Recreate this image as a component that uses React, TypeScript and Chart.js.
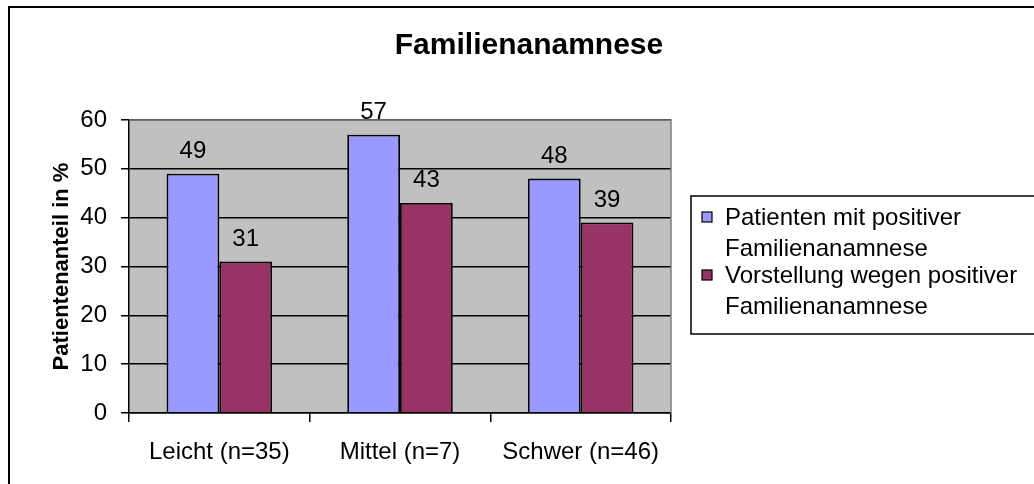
import React, { useEffect, useRef } from "react";
import { Chart, registerables } from "chart.js";

Chart.register(...registerables);

const chartTitle = "Familienanamnese";
const yAxisTitle = "Patientenanteil in %";
const categories = ["Leicht (n=35)", "Mittel (n=7)", "Schwer (n=46)"];
const seriesLabels = [
  ["Patienten mit positiver", "Familienanamnese"],
  ["Vorstellung wegen positiver", "Familienanamnese"],
];
const positiveHistory = [49, 57, 48];
const presentationDueToHistory = [31, 43, 39];
const seriesColors = ["#9999FF", "#993366"];
const yTicks = [0, 10, 20, 30, 40, 50, 60];

const FONT = "'Liberation Sans', Arial, Helvetica, sans-serif";

const decorPlugin = {
  id: "decor",
  beforeDraw(chart: any) {
    const { ctx, chartArea } = chart;
    ctx.save();
    ctx.fillStyle = "#ffffff";
    ctx.fillRect(0, 0, chart.width, chart.height);
    ctx.fillStyle = "#C0C0C0";
    ctx.fillRect(chartArea.left, chartArea.top, chartArea.right - chartArea.left, chartArea.bottom - chartArea.top);
    ctx.restore();
  },
  beforeDatasetsDraw(chart: any) {
    const { ctx, chartArea } = chart;
    ctx.save();
    ctx.strokeStyle = "#808080";
    ctx.lineWidth = 1.5;
    ctx.beginPath();
    ctx.moveTo(chartArea.left, chartArea.top);
    ctx.lineTo(chartArea.right, chartArea.top);
    ctx.lineTo(chartArea.right, chartArea.bottom);
    ctx.stroke();
    ctx.restore();
  },
  afterDatasetsDraw(chart: any) {
    const { ctx } = chart;
    ctx.save();
    ctx.fillStyle = "#000000";
    ctx.font = `24px ${FONT}`;
    ctx.textAlign = "center";
    ctx.textBaseline = "alphabetic";
    chart.data.datasets.forEach((ds: any, i: number) => {
      const meta = chart.getDatasetMeta(i);
      meta.data.forEach((el: any, j: number) => {
        ctx.fillText(String(ds.data[j]), el.x, el.y - 16);
      });
    });
    ctx.restore();
  },
  afterDraw(chart: any) {
    const { ctx } = chart;
    ctx.save();
    // title
    ctx.fillStyle = "#000000";
    ctx.font = `bold 30px ${FONT}`;
    ctx.textAlign = "center";
    ctx.textBaseline = "alphabetic";
    ctx.fillText(chartTitle, 529, 54);

    // legend
    const boxLeft = 691;
    const boxTop = 196;
    const boxBottom = 334;
    ctx.strokeStyle = "#000000";
    ctx.lineWidth = 1.5;
    ctx.strokeRect(boxLeft, boxTop, 400, boxBottom - boxTop);
    ctx.font = `24px ${FONT}`;
    ctx.textAlign = "left";
    const baselines = [225, 283];
    chart.data.datasets.forEach((ds: any, i: number) => {
      const b = baselines[i];
      ctx.fillStyle = ds.backgroundColor;
      ctx.fillRect(702, b - 13, 10, 10);
      ctx.lineWidth = 1.2;
      ctx.strokeStyle = "#000000";
      ctx.strokeRect(702, b - 13, 10, 10);
      ctx.fillStyle = "#000000";
      seriesLabels[i].forEach((line, k) => {
        ctx.fillText(line, 725, b + k * 31);
      });
    });

    // outer frame
    ctx.lineWidth = 2;
    ctx.strokeStyle = "#000000";
    ctx.strokeRect(9, 7, 1100, 600);
    ctx.restore();
  },
};

export default function App() {
  const canvasRef = useRef<HTMLCanvasElement | null>(null);

  useEffect(() => {
    if (!canvasRef.current) return;
    Chart.defaults.font.family = FONT;
    const chart = new Chart(canvasRef.current, {
      type: "bar",
      data: {
        labels: categories,
        datasets: [
          {
            label: seriesLabels[0].join(" "),
            data: positiveHistory,
            backgroundColor: seriesColors[0],
            borderColor: "#000000",
            borderWidth: 1.8,
            categoryPercentage: 0.584,
            barPercentage: 1,
          },
          {
            label: seriesLabels[1].join(" "),
            data: presentationDueToHistory,
            backgroundColor: seriesColors[1],
            borderColor: "#000000",
            borderWidth: 1.8,
            categoryPercentage: 0.584,
            barPercentage: 1,
          },
        ],
      },
      options: {
        responsive: false,
        animation: false,
        layout: { padding: { top: 120, left: 0, right: 363, bottom: 0 } },
        plugins: {
          legend: { display: false },
          title: { display: false },
          tooltip: { enabled: false },
        },
        scales: {
          x: {
            afterFit: (s: any) => {
              s.height = 71;
            },
            grid: {
              offset: true,
              drawOnChartArea: false,
              drawTicks: true,
              tickLength: 9,
              color: "#000000",
              lineWidth: 1.5,
            },
            border: { display: true, color: "#000000", width: 1.5 },
            ticks: {
              color: "#000000",
              font: { size: 24, family: FONT },
              padding: 16,
              maxRotation: 0,
            },
          },
          y: {
            min: 0,
            max: 60,
            afterFit: (s: any) => {
              s.width = 129;
            },
            afterBuildTicks: (s: any) => {
              s.ticks = yTicks.map((v) => ({ value: v }));
            },
            grid: {
              color: "#000000",
              lineWidth: 1.5,
              tickLength: 8,
              drawTicks: true,
            },
            border: { display: true, color: "#000000", width: 1.5 },
            ticks: {
              color: "#000000",
              font: { size: 24, family: FONT },
              padding: 14,
            },
            title: {
              display: true,
              text: yAxisTitle,
              color: "#000000",
              font: { size: 22, weight: "bold", family: FONT },
              padding: { top: 49, bottom: 0 },
            },
          },
        },
      },
      plugins: [decorPlugin],
    });
    return () => chart.destroy();
  }, []);

  return (
    <div style={{ position: "fixed", left: 0, top: 0, width: 1034, height: 484, background: "#fff" }}>
      <canvas ref={canvasRef} width={1034} height={484} style={{ display: "block", width: 1034, height: 484 }} />
    </div>
  );
}
